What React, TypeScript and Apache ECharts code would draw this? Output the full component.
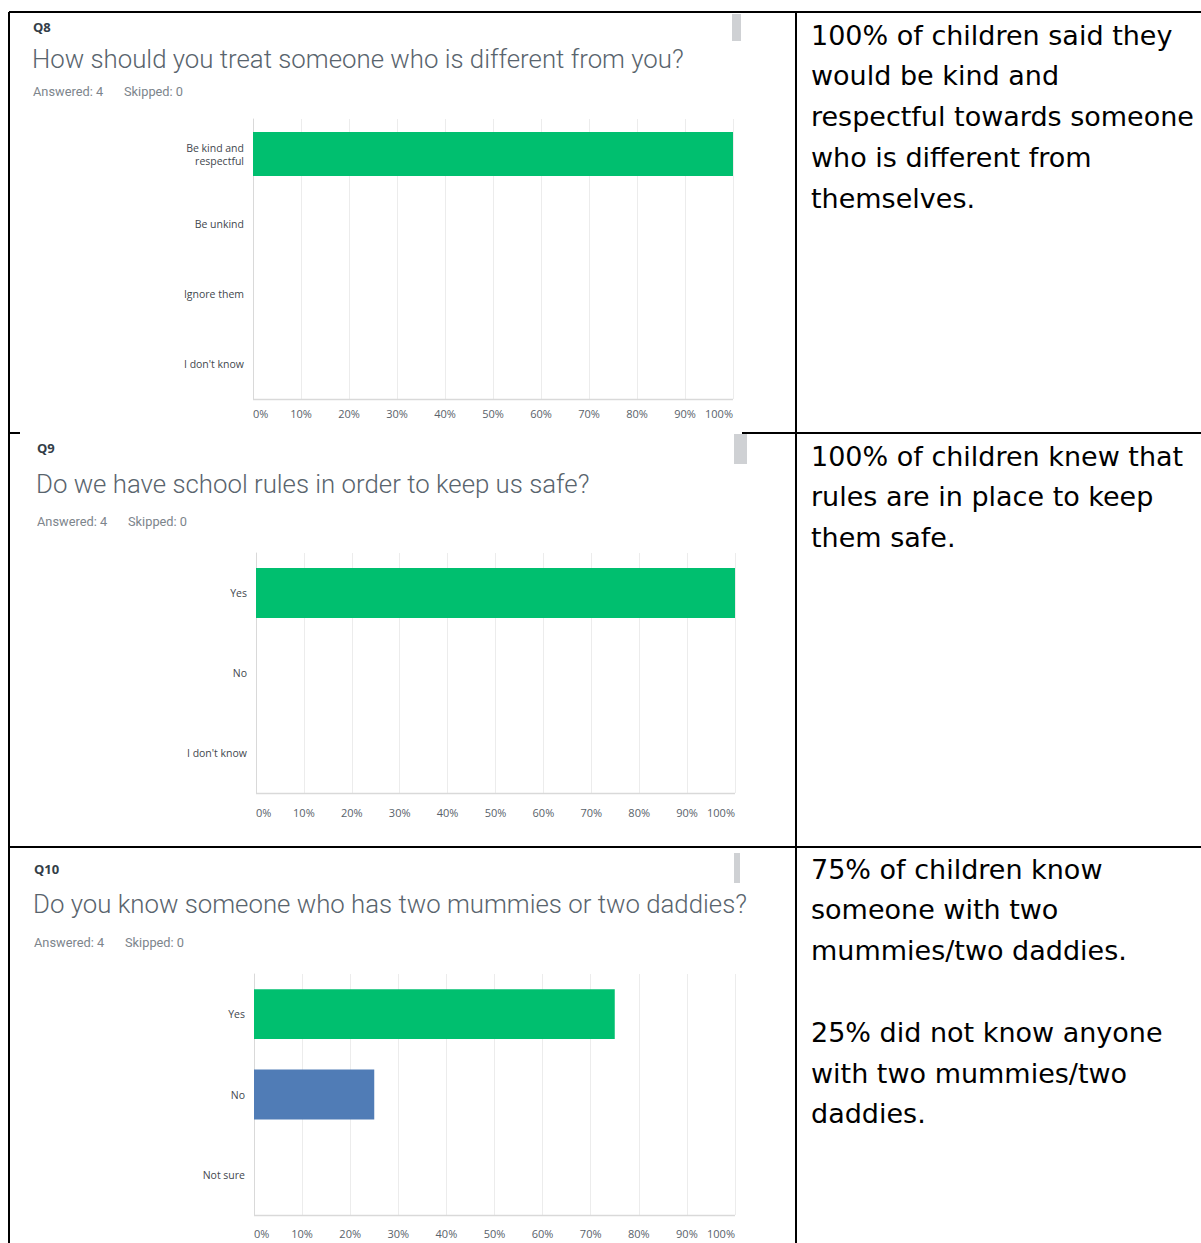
import React, { useEffect, useRef } from "react";
import * as echarts from "echarts";

// ---- Data ----
const q8Categories = ["Be kind and\nrespectful", "Be unkind", "Ignore them", "I don't know"];
const q8Values = [100, 0, 0, 0];
const q9Categories = ["Yes", "No", "I don't know"];
const q9Values = [100, 0, 0];
const q10Categories = ["Yes", "No", "Not sure"];
const q10Values = [75, 25, 0];

const questionIds = ["Q8", "Q9", "Q10"];
const questionTitles = [
  "How should you treat someone who is different from you?",
  "Do we have school rules in order to keep us safe?",
  "Do you know someone who has two mummies or two daddies?",
];
const answeredLabel = "Answered: 4";
const skippedLabel = "Skipped: 0";

const row1Text = [
  "100% of children said they",
  "would be kind and",
  "respectful towards someone",
  "who is different from",
  "themselves.",
];
const row2Text = ["100% of children knew that", "rules are in place to keep", "them safe."];
const row3Text = [
  "75% of children know",
  "someone with two",
  "mummies/two daddies.",
  "",
  "25% did not know anyone",
  "with two mummies/two",
  "daddies.",
];

const GREEN = "#00bf6f";
const BLUE = "#507cb6";
const q10Colors = [GREEN, BLUE, GREEN];

const AXIS_FONT = "'Open Sans', 'Noto Sans', sans-serif";
const TITLE_FONT = "Roboto, 'Open Sans', sans-serif";
const COMIC_FONT = "'Comic Sans MS', 'DejaVu Sans', sans-serif";

// layout of each panel
const panels = [
  { left: 253, right: 733, top: 119, bottom: 399, headX: 33, qY: 27, tY: 59, aY: 91, barW: "63%", xMargin: 9 },
  { left: 256, right: 735, top: 553, bottom: 793, headX: 37, qY: 448, tY: 484, aY: 521, barW: "62.5%", xMargin: 14 },
  { left: 254, right: 735, top: 974, bottom: 1215, headX: 34, qY: 869, tY: 904, aY: 942, barW: "62%", xMargin: 13 },
];

export default function App() {
  const ref = useRef<HTMLDivElement>(null);

  useEffect(() => {
    document.body.style.margin = "0";
    if (!ref.current) return;
    const chart = echarts.init(ref.current, null, { renderer: "svg" });
    const W = 1201;
    const H = 1243;

    const cats = [q8Categories, q9Categories, q10Categories];
    const vals = [q8Values, q9Values, q10Values];

    const grids = panels.map((p) => ({
      left: p.left,
      top: p.top,
      width: p.right - p.left,
      height: p.bottom - p.top,
      containLabel: false,
    }));

    const xAxes = panels.map((p, i) => ({
      type: "value",
      gridIndex: i,
      min: 0,
      max: 100,
      interval: 10,
      axisLine: { show: false },
      axisTick: { show: false },
      splitLine: { show: true, lineStyle: { color: "#ececec", width: 1 } },
      axisLabel: {
        formatter: "{value}%",
        color: "#59626a",
        fontFamily: AXIS_FONT,
        fontSize: 11,
        margin: p.xMargin,
        alignMinLabel: "left",
        alignMaxLabel: "right",
      },
    }));

    const yAxes = panels.map((_, i) => ({
      type: "category",
      gridIndex: i,
      data: cats[i],
      inverse: true,
      axisLine: { show: true, lineStyle: { color: "#d9d9d9", width: 1 } },
      axisTick: { show: false },
      splitLine: { show: false },
      axisLabel: {
        color: "#3f474e",
        fontFamily: AXIS_FONT,
        fontSize: 10.5,
        lineHeight: 13,
        margin: 9,
        align: "right",
      },
    }));

    const bottomAxisLines = panels.map((p) => ({
      type: "line",
      shape: { x1: p.left, y1: p.bottom + 0.5, x2: p.right, y2: p.bottom + 0.5 },
      style: { stroke: "#d9d9d9", lineWidth: 1.5 },
      z: 5,
    }));

    const series = panels.map((p, i) => ({
      type: "bar",
      xAxisIndex: i,
      yAxisIndex: i,
      barWidth: p.barW,
      data: vals[i].map((v, j) => ({
        value: v,
        itemStyle: { color: i === 2 ? q10Colors[j] : GREEN },
      })),
    }));

    const graphics: any[] = [];
    const bl = (x1: number, y1: number, x2: number, y2: number, w = 2) =>
      graphics.push({
        type: "line",
        shape: { x1, y1, x2, y2 },
        style: { stroke: "#000", lineWidth: w },
        z: 10,
      });
    bl(9, 12, W, 12);
    bl(9, 12, 9, H);
    bl(796, 12, 796, H);
    bl(8, 433, 20, 433);
    bl(742, 433, W, 433);
    bl(9, 847, W, 847);

    const sr = (x: number, y: number, w: number, h: number) =>
      graphics.push({ type: "rect", shape: { x, y, width: w, height: h }, style: { fill: "#cfd1d4" }, z: 11 });
    sr(732, 14, 9, 27);
    sr(734, 434, 13, 30);
    sr(734, 853, 6, 30);

    panels.forEach((p, i) => {
      graphics.push({
        type: "text",
        x: p.headX,
        y: p.qY,
        style: { text: questionIds[i], font: `bold 13px ${AXIS_FONT}`, fill: "#333e48", verticalAlign: "middle" },
      });
      graphics.push({
        type: "text",
        x: p.headX - 1,
        y: p.tY,
        style: { text: questionTitles[i], font: `300 25.8px ${TITLE_FONT}`, fill: "#59646d", verticalAlign: "middle" },
      });
      graphics.push({
        type: "text",
        x: p.headX,
        y: p.aY,
        style: { text: answeredLabel, font: `12.8px ${TITLE_FONT}`, fill: "#7d858c", verticalAlign: "middle" },
      });
      graphics.push({
        type: "text",
        x: p.headX + 91,
        y: p.aY,
        style: { text: skippedLabel, font: `12.8px ${TITLE_FONT}`, fill: "#7d858c", verticalAlign: "middle" },
      });
    });
    graphics.push(...bottomAxisLines);

    const addLines = (lines: string[], y0: number) =>
      lines.forEach((t, k) => {
        if (!t) return;
        graphics.push({
          type: "text",
          x: 811,
          y: y0 + k * 40.8,
          style: { text: t, font: `27px ${COMIC_FONT}`, fill: "#000", verticalAlign: "middle" },
        });
      });
    addLines(row1Text, 35);
    addLines(row2Text, 456);
    addLines(row3Text, 869);

    chart.setOption({
      animation: false,
      backgroundColor: "#ffffff",
      grid: grids,
      xAxis: xAxes,
      yAxis: yAxes,
      series,
      graphic: graphics,
    });

    return () => chart.dispose();
  }, []);

  return <div ref={ref} style={{ width: 1201, height: 1243 }} />;
}
